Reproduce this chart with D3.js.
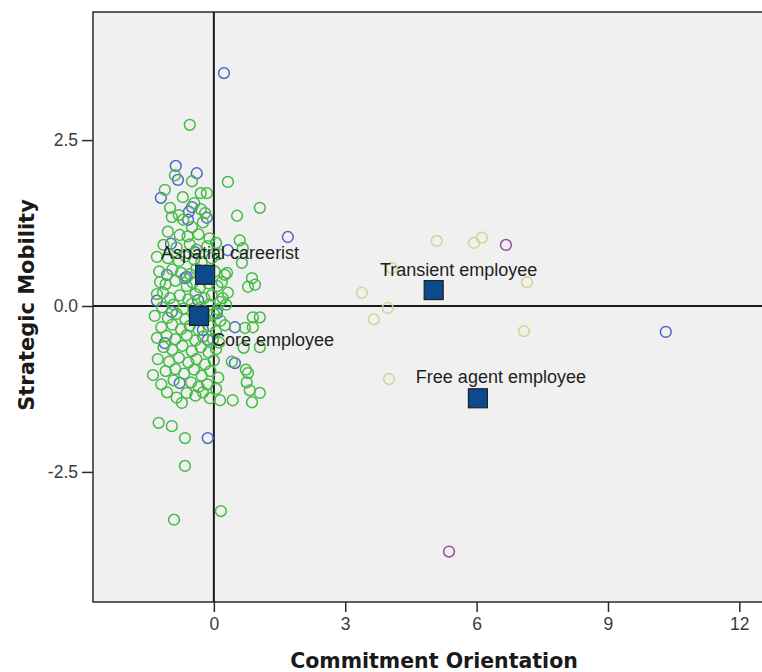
<!DOCTYPE html>
<html lang="en">
<head>
  <meta charset="UTF-8">
  <title>Commitment Orientation vs Strategic Mobility</title>
  <script src="https://d3js.org/d3.v7.min.js"></script>
  <style>
    body {
      margin: 0;
      padding: 0;
      background: #ffffff;
      overflow: hidden;
    }
    svg { display: block; }
  </style>
</head>
<body>
  <script>
    // case scores, by colour group  [commitment, mobility]
    const greenPoints = [
      [-0.55, 2.73], [-0.91, -3.22], [0.16, -3.09], [-0.66, -2.41], [-0.66, -1.99], [-1.26, -1.76], [-0.96, -1.81],
      [0.32, 1.87], [1.05, 1.48], [0.53, 1.36], [-0.89, 1.97], [-0.50, 1.88], [-1.12, 1.75], [-0.71, 1.64],
      [-0.30, 1.70], [-0.16, 1.70], [-0.30, 1.46], [-0.80, 1.37], [-0.70, 1.30], [-0.45, 1.55], [-1.00, 1.48], [-0.20, 1.40],
      [0.59, 0.99], [0.66, 0.87], [0.87, 0.42], [0.78, 0.29], [0.94, 0.32], [0.25, 0.47], [0.32, 0.20], [0.14, 0.06],
      [0.64, 0.65], [0.30, 0.50], [0.18, 0.36],
      [-1.30, 0.74], [-0.78, 1.07], [-0.50, 1.19], [-0.25, 1.26], [-0.96, 1.34], [-1.23, 0.36], [-1.16, 0.20],
      [-1.39, -1.04], [-1.07, -1.30], [-0.73, -1.46], [-0.62, -1.31], [-0.09, -1.39], [0.14, -1.42], [0.43, -1.42],
      [0.87, -1.45], [1.05, -1.31], [0.82, -1.27], [0.75, -1.15], [0.78, -1.01], [0.73, -0.96], [0.41, -0.84],
      [0.68, -0.63], [1.05, -0.62], [0.89, -0.32], [0.25, -0.29], [0.89, -0.17], [1.05, -0.17], [0.71, -0.33],
      [-1.05, 1.12], [-0.60, 1.05], [-0.35, 1.08], [-0.10, 1.02],
      [-1.15, 0.92], [-0.85, 0.88], [-0.55, 0.93], [-0.40, 0.85], [-0.15, 0.90], [0.05, 0.95],
      [-1.05, 0.72], [-0.80, 0.68], [-0.65, 0.75], [-0.45, 0.70], [-0.28, 0.66], [-0.05, 0.72], [0.10, 0.78],
      [-1.25, 0.52], [-0.95, 0.55], [-0.75, 0.50], [-0.55, 0.48], [-0.40, 0.56], [-0.20, 0.45], [0.02, 0.52],
      [-1.10, 0.33], [-0.88, 0.38], [-0.62, 0.30], [-0.48, 0.35], [-0.32, 0.28], [-0.12, 0.34], [0.08, 0.30],
      [-1.30, 0.18], [-1.00, 0.12], [-0.78, 0.16], [-0.58, 0.10], [-0.42, 0.18], [-0.22, 0.12], [-0.05, 0.16], [0.20, 0.12],
      [-1.18, -0.02], [-0.92, 0.02], [-0.70, -0.04], [-0.50, 0.03], [-0.30, -0.03], [-0.10, 0.02], [0.08, -0.05], [0.28, 0.02],
      [-1.35, -0.15], [-1.05, -0.18], [-0.85, -0.12], [-0.65, -0.20], [-0.45, -0.14], [-0.20, -0.18], [0.00, -0.12], [0.15, -0.22],
      [-1.20, -0.32], [-0.95, -0.28], [-0.75, -0.35], [-0.55, -0.30], [-0.35, -0.36], [-0.10, -0.30], [0.05, -0.38],
      [-1.30, -0.48], [-1.08, -0.45], [-0.88, -0.50], [-0.62, -0.44], [-0.42, -0.52], [-0.25, -0.46], [-0.02, -0.50], [0.12, -0.55],
      [-1.15, -0.62], [-0.95, -0.66], [-0.72, -0.60], [-0.50, -0.68], [-0.30, -0.62], [-0.12, -0.70], [0.05, -0.65],
      [-1.28, -0.80], [-1.02, -0.84], [-0.80, -0.78], [-0.58, -0.85], [-0.40, -0.80], [-0.20, -0.88], [0.00, -0.82],
      [-1.10, -0.98], [-0.88, -0.95], [-0.68, -1.02], [-0.45, -0.96], [-0.28, -1.05], [-0.08, -0.98], [0.10, -1.08],
      [-1.20, -1.18], [-0.92, -1.12], [-0.52, -1.15], [-0.35, -1.22], [-0.15, -1.18], [0.05, -1.25],
      [-0.42, -1.35], [-0.25, -1.30], [-0.85, -1.38]
    ];
    const bluePoints = [
      [0.23, 3.51], [-0.87, 2.11], [-0.39, 2.00], [-0.82, 1.90], [-1.21, 1.63], [-0.50, 1.49], [-0.57, 1.42],
      [-0.16, 1.33], [-0.59, 1.30], [1.69, 1.04], [-0.98, 0.94], [0.32, 0.84], [-0.43, 0.81], [-0.62, 0.44],
      [-1.07, 0.47], [-0.66, 0.42], [-1.30, 0.08], [-0.36, 0.09], [-0.96, -0.09], [0.07, -0.11], [0.48, -0.32],
      [-0.25, -0.36], [-0.14, -0.51], [-1.12, -0.56], [0.48, -0.86], [-0.78, -1.16], [-0.14, -1.99], [10.32, -0.39]
    ];
    const khakiPoints = [
      [5.09, 0.98], [5.94, 0.95], [6.12, 1.03], [4.06, 0.57], [7.15, 0.36], [3.38, 0.20],
      [3.97, -0.03], [3.65, -0.20], [7.08, -0.38], [4.00, -1.10]
    ];
    const purplePoints = [[6.67, 0.92], [5.37, -3.70]];

    // cluster centres
    const centreNames = ["Aspatial careerist", "Core employee", "Transient employee", "Free agent employee"];
    const centreX = [-0.20, -0.34, 5.02, 6.03];
    const centreY = [0.47, -0.15, 0.24, -1.39];

    const xTicks = [0, 3, 6, 9, 12];
    const yTicks = [-2.5, 0.0, 2.5];

    const width = 762, height = 672;
    const plotLeft = 93, plotTop = 12, plotBottom = 602, plotRight = 770;

    const x = d3.scaleLinear().domain([-2.76, 12.7]).range([plotLeft, plotRight]);
    const y = d3.scaleLinear().domain([-4.46, 4.43]).range([plotBottom, plotTop]);

    const svg = d3.select("body").append("svg")
      .attr("width", width)
      .attr("height", height)
      .style("font-family", "'Liberation Sans', Arial, sans-serif");

    svg.append("rect")
      .attr("x", plotLeft).attr("y", plotTop)
      .attr("width", plotRight - plotLeft).attr("height", plotBottom - plotTop)
      .attr("fill", "#f0f0f0")
      .attr("stroke", "#2a2a2a")
      .attr("stroke-width", 1.5);

    // axes
    const fmtY = d => d3.format(".1f")(d).replace("\u2212", "-");
    const xAxis = svg.append("g")
      .attr("transform", `translate(0,${plotBottom})`)
      .call(d3.axisBottom(x).tickValues(xTicks).tickSize(10).tickPadding(6).tickFormat(d3.format("d")));
    const yAxis = svg.append("g")
      .attr("transform", `translate(${plotLeft},0)`)
      .call(d3.axisLeft(y).tickValues(yTicks).tickSize(11).tickPadding(4).tickFormat(fmtY));
    [xAxis, yAxis].forEach(a => {
      a.select(".domain").remove();
      a.selectAll(".tick line").attr("stroke", "#2a2a2a").attr("stroke-width", 1.5);
      a.selectAll(".tick text").attr("fill", "#3a3a3a").style("font-size", "17.5px")
        .style("font-family", "'Liberation Sans', Arial, sans-serif");
    });

    // reference lines at zero
    svg.append("line")
      .attr("x1", x(0)).attr("x2", x(0))
      .attr("y1", plotTop).attr("y2", plotBottom)
      .attr("stroke", "#1a1a1a").attr("stroke-width", 2);
    svg.append("line")
      .attr("x1", plotLeft).attr("x2", plotRight)
      .attr("y1", y(0)).attr("y2", y(0))
      .attr("stroke", "#1a1a1a").attr("stroke-width", 2);

    const groups = [
      { pts: bluePoints, color: "#5265c4" },
      { pts: greenPoints, color: "#45bb45" },
      { pts: khakiPoints, color: "#d6d291" },
      { pts: purplePoints, color: "#a24aa2" }
    ];
    groups.forEach(g => {
      svg.append("g")
        .selectAll("circle")
        .data(g.pts)
        .join("circle")
          .attr("cx", d => x(d[0]))
          .attr("cy", d => y(d[1]))
          .attr("r", 5.4)
          .attr("fill", "none")
          .attr("stroke", g.color)
          .attr("stroke-width", 1.5);
    });

    const centres = centreNames.map((n, i) => ({ name: n, cx: centreX[i], cy: centreY[i] }));
    // label offsets from the square
    const labelDx = [25, 74, 25, 23];
    const labelDy = [-16, 30, -14, -15];

    svg.append("g")
      .selectAll("rect")
      .data(centres)
      .join("rect")
        .attr("x", d => x(d.cx) - 9.5)
        .attr("y", d => y(d.cy) - 9.5)
        .attr("width", 19).attr("height", 19)
        .attr("fill", "#0b4a8b")
        .attr("stroke", "#222")
        .attr("stroke-width", 1.2);

    svg.append("g")
      .selectAll("text")
      .data(centres)
      .join("text")
        .attr("x", (d, i) => x(d.cx) + labelDx[i])
        .attr("y", (d, i) => y(d.cy) + labelDy[i])
        .attr("text-anchor", "middle")
        .attr("fill", "#1e1e1e")
        .style("font-size", "18px")
        .text(d => d.name);

    // axis titles
    svg.append("text")
      .attr("x", 434).attr("y", 668)
      .attr("text-anchor", "middle")
      .attr("fill", "#1a1a1a")
      .style("font-family", "'DejaVu Sans', Verdana, sans-serif")
      .style("font-weight", "bold")
      .style("font-size", "20.5px")
      .text("Commitment Orientation");

    svg.append("text")
      .attr("transform", "translate(34,305) rotate(-90)")
      .attr("text-anchor", "middle")
      .attr("fill", "#1a1a1a")
      .style("font-family", "'DejaVu Sans', Verdana, sans-serif")
      .style("font-weight", "bold")
      .style("font-size", "21px")
      .text("Strategic Mobility");
  </script>
</body>
</html>
